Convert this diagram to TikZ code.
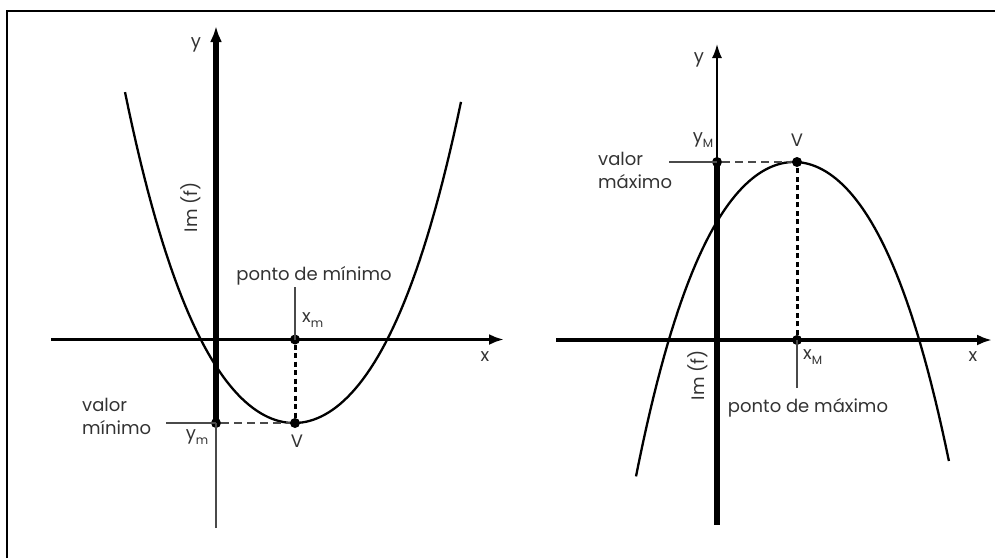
\documentclass[tikz,border=0pt]{standalone}
\usepackage{fontspec}
\setmainfont{Poppins}
\usetikzlibrary{arrows.meta}
\definecolor{txtgray}{HTML}{333333}
\definecolor{thingray}{HTML}{4a4a4a}
\newcommand{\subtxt}[1]{\raisebox{-0.45ex}{\fontsize{12}{12}\selectfont #1}}
\begin{document}
\begin{tikzpicture}[x=1pt,y=-1pt,
  txt/.style={text=txtgray, font=\fontsize{18}{23}\selectfont, inner sep=0pt},
  dot/.style={circle, fill=black, inner sep=0pt, minimum size=10pt},
  xaxis/.style={line width=3.5pt, -{Latex[length=15pt,width=11pt]}},
  thickaxis/.style={line width=6pt},
  thinline/.style={line width=1.8pt, draw=thingray},
  curve/.style={line width=2.3pt},
  hdash/.style={line width=1.8pt, draw=thingray, dash pattern=on 8pt off 5pt},
  vdash/.style={line width=3pt, dash pattern=on 5pt off 3.5pt},
  frameline/.style={line width=2.5pt}]
\useasboundingbox (0,0) rectangle (995,558);
% frame (top and left sides only)
\coordinate (F1) at (7,558);
\coordinate (F2) at (7,11);
\coordinate (F3) at (995,11);
\draw[frameline] (F1) -- (F2) -- (F3);

% ================= LEFT GRAPH =================
\coordinate (Lxs) at (51,339.5);
\coordinate (Lxe) at (504,339.5);
\coordinate (Lyb) at (216,528);
\coordinate (Lyt) at (216,26);
\coordinate (Llead) at (166,423);
\coordinate (Lpt) at (295,287);
\draw[curve] plot[domain=-1.69:1.67, samples=90] ({294+100*\x},{423-(87.4*\x*\x+9.96*\x*\x*\x*\x)});
\draw[xaxis] (Lxs) -- (Lxe);
\node[dot] (Lym) at (216,423) {};
\node[dot] (LV) at (295,423) {};
\node[dot] (Lxm) at (295,339.5) {};
\draw[thinline] (Lyb) -- (Lym.center);
\draw[thickaxis, -{Latex[length=16pt,width=12pt]}] (Lym.center) -- (Lyt);
\draw[hdash] (Lym) -- (LV);
\draw[vdash] (Lxm) -- (LV);
\draw[thinline] (Llead) -- (Lym.center);
\draw[thinline] (Lpt) -- (Lxm.center);
\node[txt] (Lylab) at (196,45) {y};
\node[txt, rotate=90] (Limf) at (191,207) {Im (f)};
\node[txt] (Lpm) at (314,276) {ponto de mínimo};
\node[txt, anchor=west] (Lxml) at (302,320) {x\subtxt{m}};
\node[txt] (Lxl) at (485,357) {x};
\node[txt, align=left, anchor=west] (Lvm) at (82,416) {valor\\mínimo};
\node[txt] (Lyml) at (197,437) {y\subtxt{m}};
\node[txt] (LVl) at (297,441) {V};

% ================= RIGHT GRAPH =================
\coordinate (Rxs) at (556,340);
\coordinate (Rxe) at (992,340);
\coordinate (Ryb) at (717,525);
\coordinate (Ryt) at (717,44);
\coordinate (Rlead) at (669,162);
\coordinate (Rpt) at (797,388);
\draw[curve] plot[domain=-1.58:1.55, samples=90] ({794+100*\x},{162+(92.6*\x*\x+13.35*\x*\x*\x*\x)});
\draw[xaxis] (Rxs) -- (Rxe);
\node[dot] (RyM) at (717,162) {};
\node[dot] (RV) at (797,162) {};
\node[dot] (RxM) at (797,340) {};
\draw[thinline, draw=black, -{Latex[length=14pt,width=10pt]}] (RyM.center) -- (Ryt);
\draw[thickaxis] (RyM.center) -- (Ryb);
\draw[hdash] (RyM) -- (RV);
\draw[vdash] (RxM) -- (RV);
\draw[thinline] (Rlead) -- (RyM.center);
\draw[thinline] (Rpt) -- (RxM.center);
\node[txt] (Rylab) at (699,60) {y};
\node[txt] (RyMl) at (703,140) {y\subtxt{M}};
\node[txt] (RVl) at (797,140) {V};
\node[txt, align=left, anchor=west] (Rvm) at (598,170) {valor\\máximo};
\node[txt, anchor=west] (RxMl) at (803,357) {x\subtxt{M}};
\node[txt] (Rpm) at (808,408) {ponto de máximo};
\node[txt, rotate=90] (Rimf) at (698,375) {Im (f)};
\node[txt] (Rxl) at (973,357) {x};
\end{tikzpicture}
\end{document}
